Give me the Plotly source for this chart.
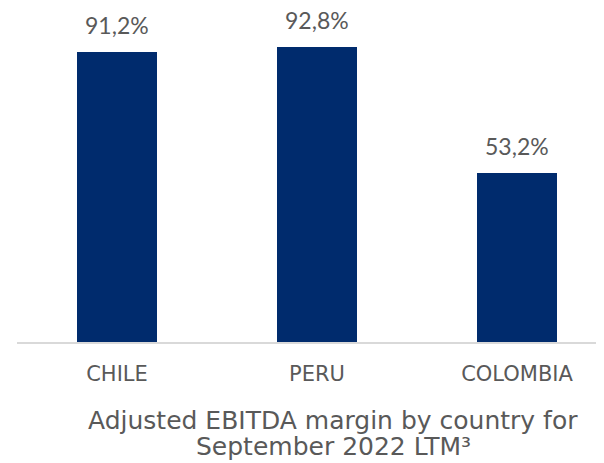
import plotly.graph_objects as go

countries = ["CHILE", "PERU", "COLOMBIA"]
margins = [91.2, 92.8, 53.2]
labels = ["91,2%", "92,8%", "53,2%"]
title_lines = ["Adjusted EBITDA margin by country for", "September 2022 LTM³"]

BAR = "#002b6d"
TXT = "#595959"
FONT = "DejaVu Sans"

H_PLOT = 334  # px height of plot area

fig = go.Figure()
fig.add_trace(go.Bar(x=countries, y=margins, marker=dict(color=BAR, line=dict(width=0)),
                     width=0.4, hoverinfo="skip"))

for c, v, t in zip(countries, margins, labels):
    fig.add_annotation(x=c, y=v, text=t, showarrow=False, yanchor="bottom", yshift=11,
                       font=dict(family="Lato", size=23, color=TXT))

for i, line in enumerate(title_lines):
    fy = 412 + 26 * i
    fig.add_annotation(xref="paper", yref="paper", x=(325 - 9) / 595, y=-(fy - H_PLOT) / H_PLOT,
                       xanchor="center", yanchor="middle", text=line, showarrow=False,
                       font=dict(family=FONT, size=25, color=TXT))

fig.update_layout(
    width=604, height=463,
    margin=dict(l=9, r=0, t=0, b=463 - H_PLOT),
    paper_bgcolor="white", plot_bgcolor="white",
    showlegend=False,
    bargap=0,
    xaxis=dict(range=[-0.5, 2.475], showgrid=False, zeroline=False, showline=True,
               linecolor="#d9d9d9", linewidth=1.5, ticks="",
               tickfont=dict(family=FONT, size=21, color=TXT), ticklabelstandoff=12),
    yaxis=dict(range=[0, 105.07], visible=False, showgrid=False, zeroline=False),
)

fig.write_html("out.html")
